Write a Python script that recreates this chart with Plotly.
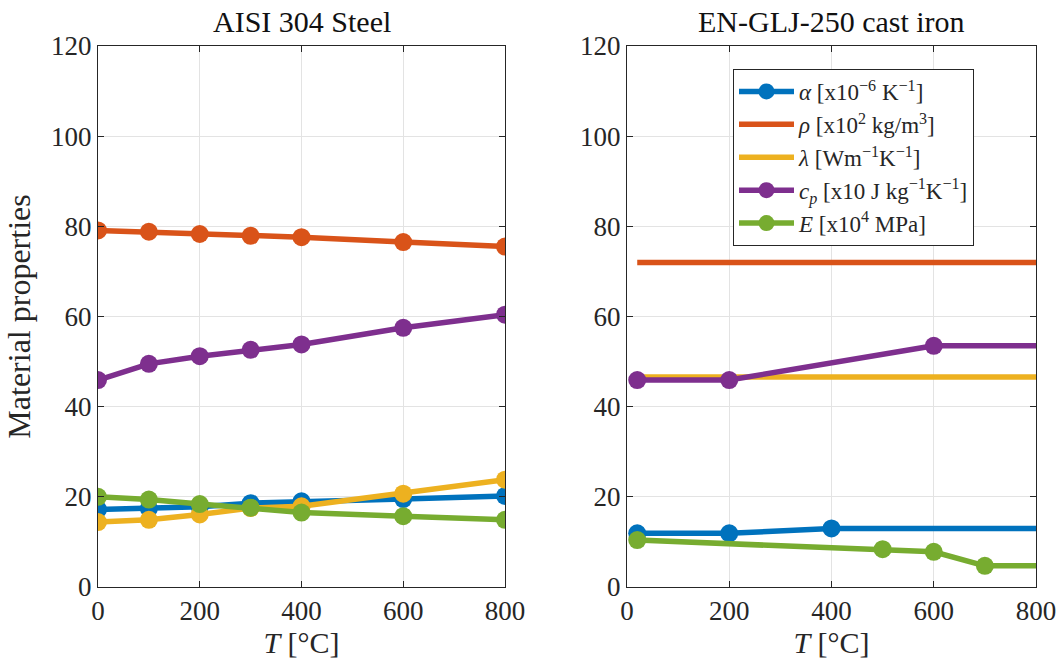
import plotly.graph_objects as go

# ---------------- data ----------------
# AISI 304 steel
T_steel = [0, 100, 200, 300, 400, 600, 800]
alpha_steel = [17.2, 17.4, 17.8, 18.6, 19.0, 19.5, 20.2]
rho_steel = [79.1, 78.8, 78.3, 77.9, 77.6, 76.5, 75.5]
lam_steel = [14.4, 14.9, 16.1, 17.5, 17.9, 20.7, 23.8]
cp_steel = [45.9, 49.5, 51.2, 52.6, 53.8, 57.5, 60.4]
E_steel = [20.0, 19.4, 18.4, 17.6, 16.5, 15.7, 14.9]

# EN-GLJ-250 cast iron (values held constant up to T_max)
T_max = 800
T_rho_ci = [20]
rho_ci = [72.0]
T_lam_ci = [20]
lam_ci = [46.6]
T_alpha_ci = [20, 200, 400]
alpha_ci = [11.9, 11.9, 13.0]
T_cp_ci = [20, 200, 600]
cp_ci = [45.9, 45.9, 53.5]
T_E_ci = [20, 500, 600, 700]
E_ci = [10.4, 8.4, 7.8, 4.7]

names = [
    "<i>α</i> [x10<sup>−6</sup> K<sup>−1</sup>]",
    "<i>ρ</i> [x10<sup>2</sup> kg/m<sup>3</sup>]",
    "<i>λ</i> [Wm<sup>−1</sup>K<sup>−1</sup>]",
    "<i>c<sub>p</sub></i> [x10 J kg<sup>−1</sup>K<sup>−1</sup>]",
    "<i>E</i> [x10<sup>4</sup> MPa]",
]
colors = ["#0072BD", "#D95319", "#EDB120", "#7E2F8E", "#77AC30"]

FONT = "Liberation Serif"
LW = 5.5
MS = 18

fig = go.Figure()

# left subplot
for y, c in zip([alpha_steel, rho_steel, lam_steel, cp_steel, E_steel], colors):
    fig.add_trace(go.Scatter(x=T_steel, y=y, mode="lines+markers",
                             line=dict(color=c, width=LW),
                             marker=dict(color=c, size=MS),
                             showlegend=False, xaxis="x", yaxis="y"))

# right subplot
ci = [(T_alpha_ci, alpha_ci, True), (T_rho_ci, rho_ci, False), (T_lam_ci, lam_ci, False),
      (T_cp_ci, cp_ci, True), (T_E_ci, E_ci, True)]
for (tx, y, mk), c, nm in zip(ci, colors, names):
    # constant extension to T_max
    fig.add_trace(go.Scatter(x=[tx[-1], T_max], y=[y[-1], y[-1]], mode="lines",
                             line=dict(color=c, width=LW), showlegend=False,
                             xaxis="x2", yaxis="y2"))
    fig.add_trace(go.Scatter(x=tx, y=y, mode="lines+markers" if mk else "lines",
                             line=dict(color=c, width=LW),
                             marker=dict(color=c, size=MS),
                             name=nm, xaxis="x2", yaxis="y2"))

W, H = 1060, 668


def px(x):
    return x / W


def py(y):
    return 1 - y / H


axcommon = dict(showline=True, linecolor="#262626", linewidth=1, mirror="ticks",
                ticks="inside", ticklen=6, tickcolor="#262626", automargin=False,
                showgrid=True, gridcolor="#E3E3E3", gridwidth=1, zeroline=False,
                tickfont=dict(family=FONT, size=27, color="#262626"))
ydom = [py(587), py(46)]
fig.update_layout(
    width=W, height=H,
    margin=dict(l=0, r=0, t=0, b=0),
    paper_bgcolor="white", plot_bgcolor="white",
    font=dict(family=FONT, color="#262626"),
    xaxis=dict(domain=[px(98), px(505)], range=[0, 800], dtick=200, anchor="y",
               title=dict(text="<i>T</i> [°C]", font=dict(size=30), standoff=2), **axcommon),
    yaxis=dict(domain=ydom, range=[0, 120], dtick=20, anchor="x",
               title=dict(text="Material properties", font=dict(size=32), standoff=10), **axcommon),
    xaxis2=dict(domain=[px(627), px(1036)], range=[0, 800], dtick=200, anchor="y2",
                title=dict(text="<i>T</i> [°C]", font=dict(size=30), standoff=2), **axcommon),
    yaxis2=dict(domain=ydom, range=[0, 120], dtick=20, anchor="x2", **axcommon),
    legend=dict(x=px(733), y=py(69), xanchor="left", yanchor="top",
                bgcolor="white", bordercolor="#262626", borderwidth=1,
                font=dict(family=FONT, size=23, color="#262626"),
                tracegroupgap=0, itemwidth=55),
    annotations=[
        dict(text="AISI 304 Steel", x=px(301.5), y=py(21), xref="paper", yref="paper",
             showarrow=False, font=dict(family=FONT, size=30, color="#111"),
             xanchor="center", yanchor="middle"),
        dict(text="EN-GLJ-250 cast iron", x=px(831.5), y=py(21), xref="paper", yref="paper",
             showarrow=False, font=dict(family=FONT, size=30, color="#111"),
             xanchor="center", yanchor="middle"),
    ],
)

fig.write_html(
    "out.html",
    config={"displayModeBar": False},
    post_script="document.body.style.margin='0';document.body.style.overflow='hidden';",
)
